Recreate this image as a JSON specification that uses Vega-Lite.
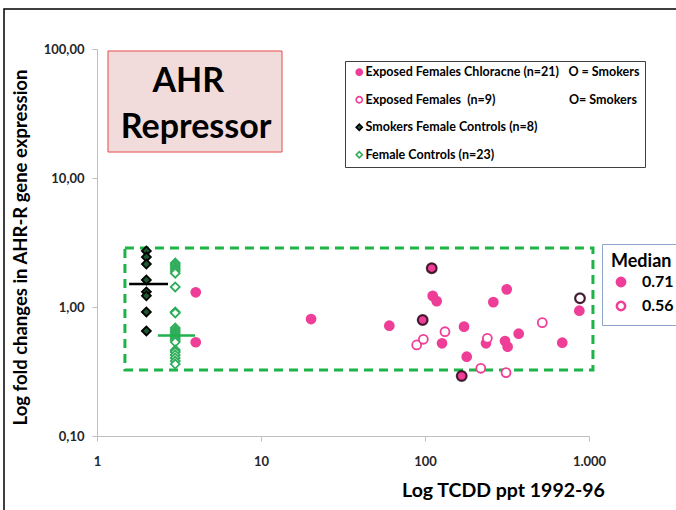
{
  "$schema": "https://vega.github.io/schema/vega-lite/v6.json",
  "width": 492,
  "height": 387,
  "autosize": {"type": "none"},
  "padding": {"left": 97, "top": 49, "right": 87, "bottom": 74},
  "background": "white",
  "config": {"view": {"stroke": null}, "font": "Lato"},
  "datasets": {
    "pts": [
      {"x": 4.0, "y": 1.30, "group": "Exposed Females Chloracne (n=21)", "smoker": false},
      {"x": 4.0, "y": 0.533, "group": "Exposed Females Chloracne (n=21)", "smoker": false},
      {"x": 20.2, "y": 0.807, "group": "Exposed Females Chloracne (n=21)", "smoker": false},
      {"x": 60.6, "y": 0.716, "group": "Exposed Females Chloracne (n=21)", "smoker": false},
      {"x": 109.9, "y": 2.0, "group": "Exposed Females Chloracne (n=21)", "smoker": true},
      {"x": 111.4, "y": 1.22, "group": "Exposed Females Chloracne (n=21)", "smoker": false},
      {"x": 117.8, "y": 1.11, "group": "Exposed Females Chloracne (n=21)", "smoker": false},
      {"x": 315, "y": 1.37, "group": "Exposed Females Chloracne (n=21)", "smoker": false},
      {"x": 261, "y": 1.09, "group": "Exposed Females Chloracne (n=21)", "smoker": false},
      {"x": 96.8, "y": 0.793, "group": "Exposed Females Chloracne (n=21)", "smoker": true},
      {"x": 173, "y": 0.704, "group": "Exposed Females Chloracne (n=21)", "smoker": false},
      {"x": 127, "y": 0.523, "group": "Exposed Females Chloracne (n=21)", "smoker": false},
      {"x": 235.5, "y": 0.523, "group": "Exposed Females Chloracne (n=21)", "smoker": false},
      {"x": 307.5, "y": 0.545, "group": "Exposed Females Chloracne (n=21)", "smoker": false},
      {"x": 319, "y": 0.492, "group": "Exposed Females Chloracne (n=21)", "smoker": false},
      {"x": 372.6, "y": 0.621, "group": "Exposed Females Chloracne (n=21)", "smoker": false},
      {"x": 687, "y": 0.529, "group": "Exposed Females Chloracne (n=21)", "smoker": false},
      {"x": 873, "y": 0.936, "group": "Exposed Females Chloracne (n=21)", "smoker": false},
      {"x": 179.6, "y": 0.412, "group": "Exposed Females Chloracne (n=21)", "smoker": false},
      {"x": 167.4, "y": 0.292, "group": "Exposed Females Chloracne (n=21)", "smoker": true},
      {"x": 89, "y": 0.508, "group": "Exposed Females (n=9)", "smoker": false},
      {"x": 97.7, "y": 0.562, "group": "Exposed Females (n=9)", "smoker": false},
      {"x": 132.4, "y": 0.643, "group": "Exposed Females (n=9)", "smoker": false},
      {"x": 240, "y": 0.572, "group": "Exposed Females (n=9)", "smoker": false},
      {"x": 519, "y": 0.756, "group": "Exposed Females (n=9)", "smoker": false},
      {"x": 218.8, "y": 0.335, "group": "Exposed Females (n=9)", "smoker": false},
      {"x": 312, "y": 0.31, "group": "Exposed Females (n=9)", "smoker": false},
      {"x": 881, "y": 1.168, "group": "Exposed Females (n=9)", "smoker": true},
      {"x": 2, "y": 2.72, "group": "Smokers Female Controls (n=8)", "smoker": false},
      {"x": 2, "y": 2.44, "group": "Smokers Female Controls (n=8)", "smoker": false},
      {"x": 2, "y": 2.15, "group": "Smokers Female Controls (n=8)", "smoker": false},
      {"x": 2, "y": 1.62, "group": "Smokers Female Controls (n=8)", "smoker": false},
      {"x": 2, "y": 1.31, "group": "Smokers Female Controls (n=8)", "smoker": false},
      {"x": 2, "y": 1.22, "group": "Smokers Female Controls (n=8)", "smoker": false},
      {"x": 2, "y": 0.915, "group": "Smokers Female Controls (n=8)", "smoker": false},
      {"x": 2, "y": 0.652, "group": "Smokers Female Controls (n=8)", "smoker": false},
      {"x": 3, "y": 2.19, "group": "Female Controls (n=23)", "smoker": false},
      {"x": 3, "y": 2.12, "group": "Female Controls (n=23)", "smoker": false},
      {"x": 3, "y": 2.04, "group": "Female Controls (n=23)", "smoker": false},
      {"x": 3, "y": 1.97, "group": "Female Controls (n=23)", "smoker": false},
      {"x": 3, "y": 1.90, "group": "Female Controls (n=23)", "smoker": false},
      {"x": 3, "y": 1.83, "group": "Female Controls (n=23)", "smoker": false},
      {"x": 3, "y": 1.43, "group": "Female Controls (n=23)", "smoker": false},
      {"x": 3, "y": 0.915, "group": "Female Controls (n=23)", "smoker": false},
      {"x": 3, "y": 0.899, "group": "Female Controls (n=23)", "smoker": false},
      {"x": 3, "y": 0.688, "group": "Female Controls (n=23)", "smoker": false},
      {"x": 3, "y": 0.663, "group": "Female Controls (n=23)", "smoker": false},
      {"x": 3, "y": 0.640, "group": "Female Controls (n=23)", "smoker": false},
      {"x": 3, "y": 0.618, "group": "Female Controls (n=23)", "smoker": false},
      {"x": 3, "y": 0.596, "group": "Female Controls (n=23)", "smoker": false},
      {"x": 3, "y": 0.575, "group": "Female Controls (n=23)", "smoker": false},
      {"x": 3, "y": 0.555, "group": "Female Controls (n=23)", "smoker": false},
      {"x": 3, "y": 0.535, "group": "Female Controls (n=23)", "smoker": false},
      {"x": 3, "y": 0.464, "group": "Female Controls (n=23)", "smoker": false},
      {"x": 3, "y": 0.448, "group": "Female Controls (n=23)", "smoker": false},
      {"x": 3, "y": 0.425, "group": "Female Controls (n=23)", "smoker": false},
      {"x": 3, "y": 0.403, "group": "Female Controls (n=23)", "smoker": false},
      {"x": 3, "y": 0.381, "group": "Female Controls (n=23)", "smoker": false},
      {"x": 3, "y": 0.361, "group": "Female Controls (n=23)", "smoker": false}
    ]
  },
  "layer": [
    {
      "data": {"values": [{"x1": 0.271, "x2": 1000000, "y1": 0.00001, "y2": 204}]},
      "mark": {"type": "rect", "fill": "transparent", "stroke": "black", "strokeWidth": 1.5},
      "encoding": {
        "x": {"field": "x1", "type": "quantitative", "scale": {"type": "log", "domain": [1, 1000], "nice": false},
          "axis": {"values": [1, 10, 100, 1000], "labelExpr": "datum.value >= 1000 ? '1.000' : format(datum.value, 'd')", "title": "Log TCDD ppt 1992-96", "grid": false, "domainColor": "#BFBFBF", "tickColor": "#BFBFBF", "tickSize": 5, "labelFont": "Lato", "labelFontSize": 13, "labelFontWeight": "bold", "labelColor": "#262626", "labelPadding": 14, "labelFlush": false, "labelOverlap": false, "titleFont": "Lato", "titleFontSize": 19.5, "titleFontWeight": "bold", "titleColor": "black", "titleX": 406, "titleY": 45, "titleAlign": "center", "titleBaseline": "top"}},
        "x2": {"field": "x2"},
        "y": {"field": "y1", "type": "quantitative", "scale": {"type": "log", "domain": [0.1, 100], "nice": false},
          "axis": {"values": [0.1, 1, 10, 100], "labelExpr": "replace(format(datum.value, '.2f'), '.', ',')", "title": "Log fold changes in AHR-R gene expression", "grid": false, "domainColor": "#BFBFBF", "tickColor": "#BFBFBF", "tickSize": 5, "labelFont": "Lato", "labelFontSize": 13, "labelFontWeight": "bold", "labelColor": "#262626", "labelPadding": 8, "labelFlush": false, "labelOverlap": false, "titleFont": "Lato", "titleFontSize": 18.5, "titleFontWeight": "bold", "titleColor": "black", "titleX": -77, "titleY": 198, "titleAlign": "center", "titleBaseline": "middle", "titleAngle": -90}},
        "y2": {"field": "y2"}
      }
    },
    {
      "data": {"values": [{"x1": 1.167, "x2": 13.43, "y1": 15.9, "y2": 96.5}]},
      "mark": {"type": "rect", "fill": "#F2DCDB", "stroke": "#E84B4B", "strokeWidth": 1},
      "encoding": {
        "x": {"field": "x1", "type": "quantitative"},
        "x2": {"field": "x2"},
        "y": {"field": "y1", "type": "quantitative"},
        "y2": {"field": "y2"}
      }
    },
    {
      "data": {"values": [{"x": 3.6, "y": 46.4, "t": "AHR"}, {"x": 4.02, "y": 20.4, "t": "Repressor"}]},
      "mark": {"type": "text", "font": "Lato", "fontSize": 34, "fontWeight": "bold", "align": "center", "baseline": "alphabetic", "color": "black"},
      "encoding": {
        "x": {"field": "x", "type": "quantitative"},
        "y": {"field": "y", "type": "quantitative"},
        "text": {"field": "t"}
      }
    },
    {
      "data": {"values": [{"x1": 1.48, "x2": 1057, "y1": 0.325, "y2": 2.87}]},
      "mark": {"type": "rect", "fill": "transparent", "stroke": "#1DB347", "strokeWidth": 3, "strokeDash": [9, 6]},
      "encoding": {
        "x": {"field": "x1", "type": "quantitative"},
        "x2": {"field": "x2"},
        "y": {"field": "y1", "type": "quantitative"},
        "y2": {"field": "y2"}
      }
    },
    {
      "data": {"name": "pts"},
      "mark": {"type": "point", "filled": true, "size": 80, "strokeWidth": 1.8, "opacity": 1},
      "encoding": {
        "x": {"field": "x", "type": "quantitative"},
        "y": {"field": "y", "type": "quantitative"},
        "fill": {"field": "group", "type": "nominal",
          "scale": {"domain": ["Exposed Females Chloracne (n=21)", "Exposed Females (n=9)", "Smokers Female Controls (n=8)", "Female Controls (n=23)"], "range": ["#EE3E97", "white", "#1E5631", "white"]},
          "legend": {"title": null, "orient": "none", "legendX": 248, "legendY": 12, "padding": 5, "strokeColor": "#404040", "fillColor": "white", "labelFont": "Lato", "labelFontSize": 12.5, "labelFontWeight": "bold", "labelColor": "black", "labelOffset": 0, "symbolOffset": 3, "symbolSize": 38, "symbolStrokeWidth": 1.6, "rowPadding": 13.5, "labelLimit": 400, "labelExpr": "datum.label == 'Exposed Females Chloracne (n=21)' ? datum.label + '\u2003O = Smokers' : (datum.label == 'Exposed Females (n=9)' ? 'Exposed Females\u00a0 (n=9)\u2003\u2003\u2003\u2003\u2003\u2003\u2003\u2002\u2009O= Smokers' : datum.label)"}},
        "stroke": {"field": "group", "type": "nominal",
          "scale": {"domain": ["Exposed Females Chloracne (n=21)", "Exposed Females (n=9)", "Smokers Female Controls (n=8)", "Female Controls (n=23)"], "range": ["#EE3E97", "#EE3E97", "black", "#2EAD5A"]},
          "legend": {"title": null, "orient": "none", "legendX": 248, "legendY": 12, "padding": 5, "strokeColor": "#404040", "fillColor": "white", "labelFont": "Lato", "labelFontSize": 12.5, "labelFontWeight": "bold", "labelColor": "black", "labelOffset": 0, "symbolOffset": 3, "symbolSize": 38, "symbolStrokeWidth": 1.6, "rowPadding": 13.5, "labelLimit": 400, "labelExpr": "datum.label == 'Exposed Females Chloracne (n=21)' ? datum.label + '\u2003O = Smokers' : (datum.label == 'Exposed Females (n=9)' ? 'Exposed Females\u00a0 (n=9)\u2003\u2003\u2003\u2003\u2003\u2003\u2003\u2002\u2009O= Smokers' : datum.label)"}},
        "shape": {"field": "group", "type": "nominal",
          "scale": {"domain": ["Exposed Females Chloracne (n=21)", "Exposed Females (n=9)", "Smokers Female Controls (n=8)", "Female Controls (n=23)"], "range": ["circle", "circle", "diamond", "diamond"]},
          "legend": {"title": null, "orient": "none", "legendX": 248, "legendY": 12, "padding": 5, "strokeColor": "#404040", "fillColor": "white", "labelFont": "Lato", "labelFontSize": 12.5, "labelFontWeight": "bold", "labelColor": "black", "labelOffset": 0, "symbolOffset": 3, "symbolSize": 38, "symbolStrokeWidth": 1.6, "rowPadding": 13.5, "labelLimit": 400, "labelExpr": "datum.label == 'Exposed Females Chloracne (n=21)' ? datum.label + '\u2003O = Smokers' : (datum.label == 'Exposed Females (n=9)' ? 'Exposed Females\u00a0 (n=9)\u2003\u2003\u2003\u2003\u2003\u2003\u2003\u2002\u2009O= Smokers' : datum.label)"}}
      }
    },
    {
      "data": {"values": [{"x1": 1.57, "x2": 2.71, "y": 1.51}]},
      "mark": {"type": "rule", "color": "black", "strokeWidth": 2.5},
      "encoding": {
        "x": {"field": "x1", "type": "quantitative"},
        "x2": {"field": "x2"},
        "y": {"field": "y", "type": "quantitative"}
      }
    },
    {
      "data": {"values": [{"x1": 2.35, "x2": 3.96, "y": 0.60}]},
      "mark": {"type": "rule", "color": "#22B14C", "strokeWidth": 2.5},
      "encoding": {
        "x": {"field": "x1", "type": "quantitative"},
        "x2": {"field": "x2"},
        "y": {"field": "y", "type": "quantitative"}
      }
    },
    {
      "data": {"name": "pts"},
      "transform": [{"filter": "datum.smoker"}],
      "mark": {"type": "point", "shape": "circle", "filled": true, "size": 95, "strokeWidth": 2.2, "stroke": "black"},
      "encoding": {
        "x": {"field": "x", "type": "quantitative"},
        "y": {"field": "y", "type": "quantitative"},
        "fill": {"condition": {"test": "datum.group == 'Exposed Females (n=9)'", "value": "white"}, "value": "#EE3E97"}
      }
    },
    {
      "data": {"values": [{"m": "0.71", "x": 1, "y": 0.71}, {"m": "0.56", "x": 1, "y": 0.56}]},
      "mark": {"type": "point", "shape": "circle", "filled": true, "opacity": 0},
      "encoding": {
        "x": {"field": "x", "type": "quantitative"},
        "y": {"field": "y", "type": "quantitative"},
        "fill": {"field": "m", "type": "nominal", "scale": {"domain": ["0.71", "0.56"], "range": ["#EE3E97", "white"]},
          "legend": {"title": "Median", "orient": "none", "legendX": 505, "legendY": 195, "padding": 9, "strokeColor": "#8EA4C8", "fillColor": "white", "titleFont": "Lato", "titleFontSize": 18, "titleFontWeight": "bold", "titleColor": "black", "titlePadding": 3, "labelFont": "Lato", "labelFontSize": 16, "labelFontWeight": "bold", "labelColor": "black", "labelOffset": 13, "symbolSize": 70, "symbolStrokeWidth": 2.5, "symbolOpacity": 1, "symbolOffset": 2, "rowPadding": 4}},
        "stroke": {"field": "m", "type": "nominal", "scale": {"domain": ["0.71", "0.56"], "range": ["#EE3E97", "#EE3E97"]},
          "legend": {"title": "Median", "orient": "none", "legendX": 505, "legendY": 195, "padding": 9, "strokeColor": "#8EA4C8", "fillColor": "white", "titleFont": "Lato", "titleFontSize": 18, "titleFontWeight": "bold", "titleColor": "black", "titlePadding": 3, "labelFont": "Lato", "labelFontSize": 16, "labelFontWeight": "bold", "labelColor": "black", "labelOffset": 13, "symbolSize": 70, "symbolStrokeWidth": 2.5, "symbolOpacity": 1, "symbolOffset": 2, "rowPadding": 4}}
      }
    }
  ],
  "resolve": {
    "scale": {"fill": "independent", "stroke": "independent", "shape": "independent"},
    "legend": {"fill": "independent", "stroke": "independent", "shape": "independent"}
  }
}
